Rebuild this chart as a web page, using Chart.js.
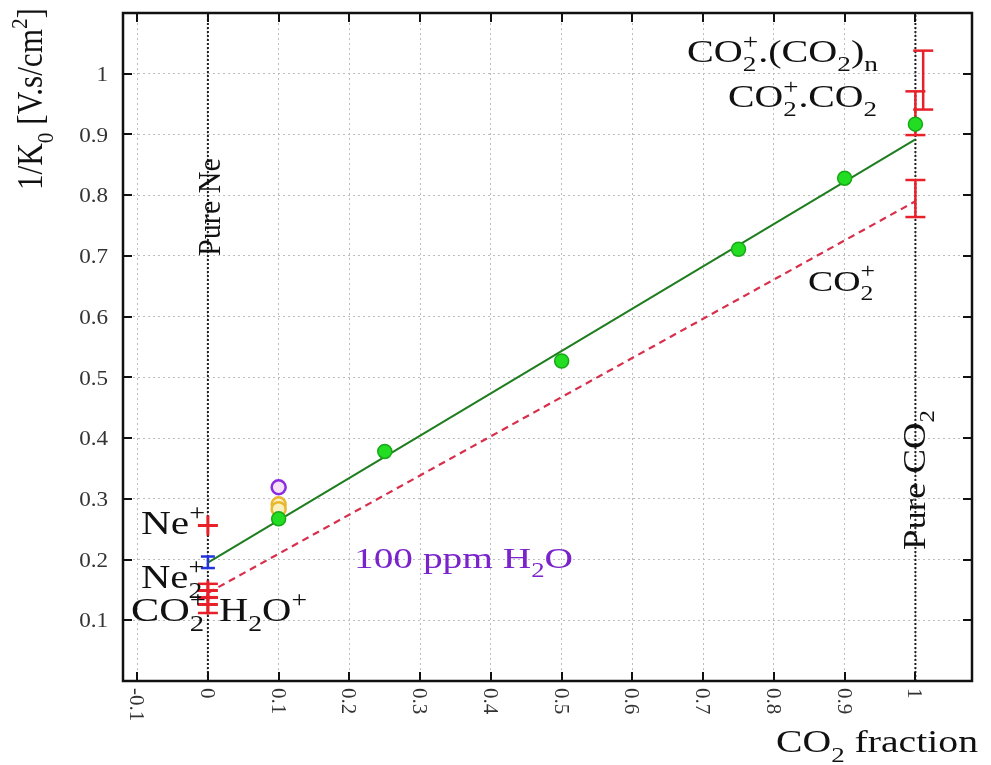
<!DOCTYPE html>
<html><head><meta charset="utf-8">
<script src="https://cdn.jsdelivr.net/npm/chart.js@4.4.0/dist/chart.umd.min.js"></script>
<style>html,body{margin:0;padding:0;background:#fff;}canvas{display:block}</style>
</head><body>
<canvas id="c" width="991" height="765"></canvas>
<script>
// ---- data ----
const co2Fraction = [0.1, 0.25, 0.5, 0.75, 0.9, 1.0];
const invK0 = [0.267, 0.378, 0.527, 0.711, 0.828, 0.917];
const fitX = [0, 1];
const fitMixture = [0.195, 0.892];
const fitCO2ion = [0.145, 0.79];
const errX = [1.011, 1.0, 1.0, 0, 0, 0];
const errLow = [0.941, 0.899, 0.764, 0.186, 0.138, 0.112];
const errHigh = [1.038, 0.971, 0.825, 0.205, 0.160, 0.137];
const errColor = ['red', 'red', 'red', 'blue', 'red', 'red'];
const ionX = [0, 0, 0];
const ionY = [0.256, 0.149, 0.126];
const waterX = [0.1, 0.1];
const waterY = [0.291, 0.283];
const ppmX = [0.1];
const ppmY = [0.319];
const pureX = [0, 1];
const yRange = [0, 1.1];
const xTickVals = [-0.1, 0, 0.1, 0.2, 0.3, 0.4, 0.5, 0.6, 0.7, 0.8, 0.9, 1];
const xTickLabels = ['-0.1', '0', '0.1', '0.2', '0.3', '0.4', '0.5', '0.6', '0.7', '0.8', '0.9', '1'];
const yTickVals = [0.1, 0.2, 0.3, 0.4, 0.5, 0.6, 0.7, 0.8, 0.9, 1];
const yTickLabels = ['0.1', '0.2', '0.3', '0.4', '0.5', '0.6', '0.7', '0.8', '0.9', '1'];

const COLORS = { red: '#e8202a', blue: '#2233dd' };
const FONT = "'Liberation Serif','Times New Roman',serif";

const pts = (xs, ys) => xs.map((x, i) => ({ x: x, y: ys[i] }));

const datasets = [];
datasets.push({ data: pts(co2Fraction, invK0), pointRadius: 7, pointBackgroundColor: '#22dd22',
  pointBorderColor: '#18a818', pointBorderWidth: 1.5, showLine: false });
datasets.push({ data: pts(ppmX, ppmY), pointRadius: 7, pointBackgroundColor: '#f6e2f6',
  pointBorderColor: '#8a2be2', pointBorderWidth: 2.5, showLine: false });
datasets.push({ data: pts(waterX, waterY), pointRadius: 7, pointBackgroundColor: '#fbf0c0',
  pointBorderColor: '#e8b830', pointBorderWidth: 2.5, showLine: false });
datasets.push({ data: pts(ionX, ionY), pointStyle: 'cross', pointRadius: 10, pointBorderColor: COLORS.red,
  pointBorderWidth: 3, showLine: false });
errX.forEach((x, i) => {
  const c = COLORS[errColor[i]];
  datasets.push({ data: [{ x: x, y: errLow[i] }, { x: x, y: errHigh[i] }], showLine: true,
    borderColor: c, borderWidth: 2.5, pointStyle: 'line', pointRadius: errColor[i] === 'blue' ? 7 : 10,
    pointBorderColor: c, pointBorderWidth: 2.5 });
});
datasets.push({ data: pts(fitX, fitMixture), showLine: true, borderColor: '#1e7d1e', borderWidth: 2, pointRadius: 0 });
datasets.push({ data: pts(fitX, fitCO2ion), showLine: true, borderColor: '#d8304c', borderWidth: 2.2,
  borderDash: [7, 5], pointRadius: 0 });
pureX.forEach(x => {
  datasets.push({ data: [{ x: x, y: yRange[0] }, { x: x, y: yRange[1] }], showLine: true,
    borderColor: '#222', borderWidth: 2, borderDash: [2, 2], pointRadius: 0 });
});

// ---- rich text helpers (sub/superscripts) ----
function setFont(ctx, s) { ctx.font = s + 'px ' + FONT; }
const SS = 0.68;
function measureRich(ctx, parts, fs) {
  let w = 0;
  for (const p of parts) {
    if (p[1] === 'n') { setFont(ctx, fs); w += ctx.measureText(p[0]).width; }
    else if (p[1] === 'sub' || p[1] === 'sup') { setFont(ctx, fs * SS); w += ctx.measureText(p[0]).width; }
    else { setFont(ctx, fs * SS); w += Math.max(ctx.measureText(p[0]).width, ctx.measureText(p[2]).width); }
  }
  return w;
}
function drawRich(ctx, parts, x, y, o) {
  const fs = o.fs;
  ctx.save();
  ctx.translate(x, y);
  if (o.rot) ctx.rotate(o.rot);
  const W = measureRich(ctx, parts, fs);
  const sx = o.w ? o.w / W : (o.sx || 1);
  ctx.scale(sx, 1);
  let cx = o.align === 'right' ? -W : o.align === 'center' ? -W / 2 : 0;
  ctx.fillStyle = o.color || '#111';
  ctx.textBaseline = 'alphabetic';
  ctx.textAlign = 'left';
  for (const p of parts) {
    if (p[1] === 'n') { setFont(ctx, fs); ctx.fillText(p[0], cx, 0); cx += ctx.measureText(p[0]).width; }
    else if (p[1] === 'sub') { setFont(ctx, fs * SS); ctx.fillText(p[0], cx, fs * 0.3); cx += ctx.measureText(p[0]).width; }
    else if (p[1] === 'sup') { setFont(ctx, fs * SS); ctx.fillText(p[0], cx, -fs * 0.42); cx += ctx.measureText(p[0]).width; }
    else {
      setFont(ctx, fs * SS);
      ctx.fillText(p[0], cx, fs * 0.3);
      ctx.fillText(p[2], cx, -fs * 0.42);
      cx += Math.max(ctx.measureText(p[0]).width, ctx.measureText(p[2]).width);
    }
  }
  ctx.restore();
}

const decor = {
  id: 'decor',
  afterDatasetsDraw(chart) {
    const ctx = chart.ctx, a = chart.chartArea;
    const xs = chart.scales.x, ys = chart.scales.y;
    ctx.save();
    // inward ticks
    ctx.strokeStyle = '#111'; ctx.lineWidth = 2;
    const TL = 9;
    ctx.beginPath();
    xTickVals.forEach(v => {
      const px = Math.round(xs.getPixelForValue(v));
      ctx.moveTo(px, a.bottom); ctx.lineTo(px, a.bottom - TL);
      ctx.moveTo(px, a.top); ctx.lineTo(px, a.top + TL);
    });
    yTickVals.forEach(v => {
      const py = Math.round(ys.getPixelForValue(v));
      ctx.moveTo(a.left, py); ctx.lineTo(a.left + TL, py);
      ctx.moveTo(a.right, py); ctx.lineTo(a.right - TL, py);
    });
    ctx.stroke();
    // frame
    ctx.lineWidth = 2.5;
    ctx.strokeRect(a.left, a.top, a.right - a.left, a.bottom - a.top);
    // tick labels
    xTickVals.forEach((v, i) => {
      const px = xs.getPixelForValue(v);
      drawRich(ctx, [[xTickLabels[i], 'n']], px - 0.34 * 21, a.bottom + 7, { fs: 21, rot: Math.PI / 2, color: '#333' });
    });
    yTickVals.forEach((v, i) => {
      const py = ys.getPixelForValue(v);
      drawRich(ctx, [[yTickLabels[i], 'n']], 108, py + 0.34 * 21, { fs: 21, align: 'right', sx: 1.1, color: '#333' });
    });
    // axis titles
    drawRich(ctx, [['1/K', 'n'], ['0', 'sub'], [' [V.s/cm', 'n'], ['2', 'sup'], [']', 'n']], 42, 190,
      { fs: 35, rot: -Math.PI / 2, w: 182 });
    drawRich(ctx, [['CO', 'n'], ['2', 'sub'], [' fraction', 'n']], 776, 752, { fs: 32, w: 202 });
    // annotations
    drawRich(ctx, [['Pure Ne', 'n']], 220, 256, { fs: 31, rot: -Math.PI / 2, w: 98 });
    drawRich(ctx, [['Pure CO', 'n'], ['2', 'sub']], 925, 550, { fs: 31, rot: -Math.PI / 2, w: 140 });
    drawRich(ctx, [['CO', 'n'], ['2', 'ss', '+'], ['.(CO', 'n'], ['2', 'sub'], [')', 'n'], ['n', 'sub']], 687, 62, { fs: 31, w: 191 });
    drawRich(ctx, [['CO', 'n'], ['2', 'ss', '+'], ['.CO', 'n'], ['2', 'sub']], 728, 107, { fs: 31, w: 149 });
    drawRich(ctx, [['CO', 'n'], ['2', 'ss', '+']], 808, 291, { fs: 30, w: 67 });
    drawRich(ctx, [['Ne', 'n'], ['+', 'sup']], 141, 534, { fs: 33, w: 64 });
    drawRich(ctx, [['Ne', 'n'], ['2', 'ss', '+']], 141, 588, { fs: 33, w: 63 });
    drawRich(ctx, [['CO', 'n'], ['2', 'ss', '+']], 131, 621, { fs: 33, w: 75 });
    drawRich(ctx, [['H', 'n'], ['2', 'sub'], ['O', 'n'], ['+', 'sup']], 219, 621, { fs: 33, w: 88 });
    drawRich(ctx, [['100 ppm H', 'n'], ['2', 'sub'], ['O', 'n']], 354, 568, { fs: 30, w: 219, color: '#7a22cc' });
    ctx.restore();
  }
};

new Chart(document.getElementById('c'), {
  type: 'scatter',
  data: { datasets: datasets },
  options: {
    responsive: false,
    animation: false,
    layout: { padding: { top: 8, right: 19, left: 0, bottom: 0 } },
    plugins: { legend: { display: false }, tooltip: { enabled: false } },
    scales: {
      x: {
        type: 'linear', min: -0.12, max: 1.08,
        afterBuildTicks: s => { s.ticks = xTickVals.map(v => ({ value: v })); },
        afterFit: s => { s.height = 84; },
        ticks: { display: false },
        border: { display: false, dash: [2, 3] },
        grid: { color: '#bdbdbd', lineWidth: 1, drawTicks: false }
      },
      y: {
        type: 'linear', min: yRange[0], max: yRange[1],
        afterBuildTicks: s => { s.ticks = yTickVals.map(v => ({ value: v })); },
        afterFit: s => { s.width = 123; },
        ticks: { display: false },
        border: { display: false, dash: [2, 3] },
        grid: { color: '#bdbdbd', lineWidth: 1, drawTicks: false }
      }
    }
  },
  plugins: [decor]
});
</script>
</body></html>
